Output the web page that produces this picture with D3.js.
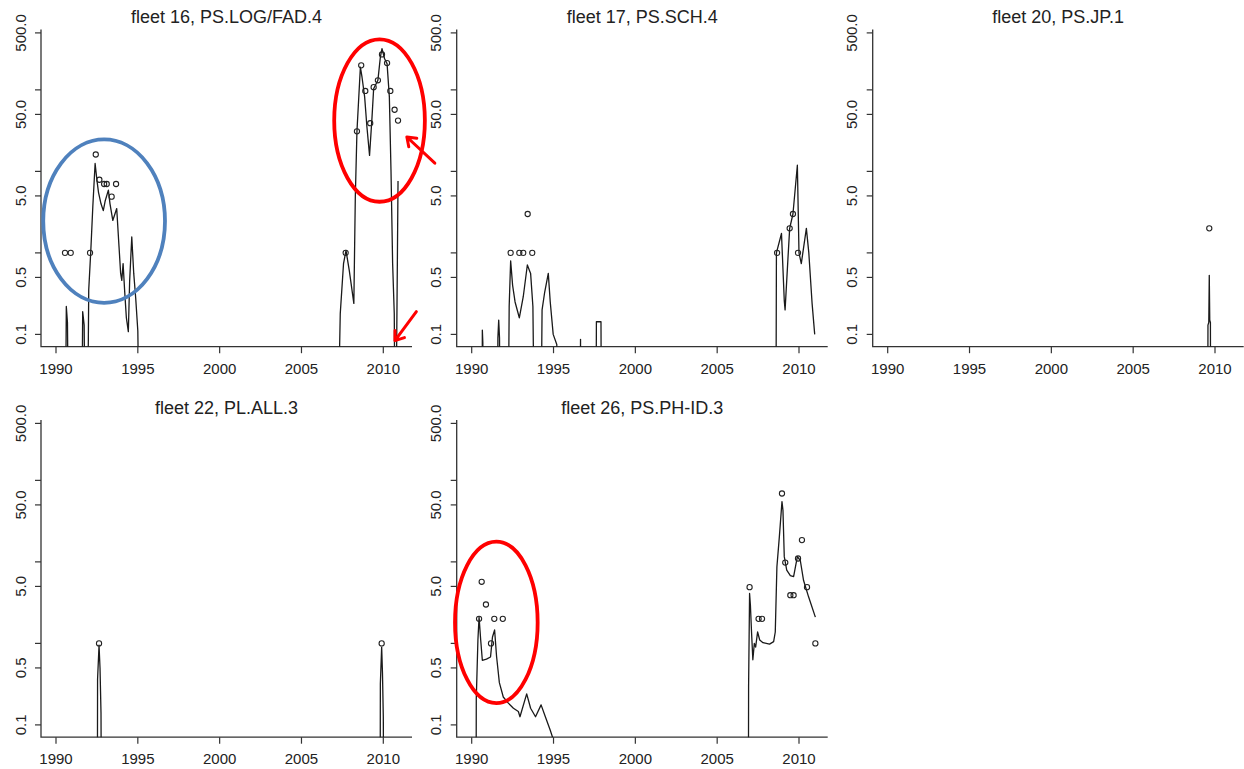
<!DOCTYPE html>
<html>
<head>
<meta charset="utf-8">
<script src="https://cdn.jsdelivr.net/npm/d3@7"></script>
<style>
  html, body { margin: 0; padding: 0; background: #fff; }
  svg { display: block; font-family: "Liberation Sans", Arial, sans-serif; }
</style>
</head>
<body>
<svg id="chart" width="1244" height="769"></svg>
<script>
// ---------------- DATA ----------------
const panelTitles = ["fleet 16, PS.LOG/FAD.4", "fleet 17, PS.SCH.4", "fleet 20, PS.JP.1",
                     "fleet 22, PL.ALL.3", "fleet 26, PS.PH-ID.3"];
const xTicks = [1990, 1995, 2000, 2005, 2010];
const yTicks = [0.1, 0.5, 1, 5, 10, 50, 100, 500];
const yTickLabels = ["0.1", "0.5", "", "5.0", "", "50.0", "", "500.0"];

// fleet 16 observed (points) and expected (line)
const f16ObsT = [1990.55, 1990.9, 1992.08, 1992.43, 1992.65, 1992.94, 1993.1, 1993.4, 1993.67,
                 2007.7, 2008.39, 2008.65, 2008.9, 2009.2, 2009.41, 2009.67, 2009.92, 2010.23, 2010.43, 2010.69, 2010.9];
const f16ObsV = [1.0, 1.0, 1.0, 16.1, 7.9, 7.0, 7.0, 4.9, 7.0,
                 1.0, 31, 200, 97, 39, 108, 131, 272, 213, 97, 57, 42];
const f16ExpT = [1990.55, 1990.63, 1990.7, 1990.8, 1991.55, 1991.63, 1991.72, 1991.82, 1991.9,
                 1992.0, 1992.125, 1992.25, 1992.39, 1992.5, 1992.6, 1992.75, 1992.89, 1993.0, 1993.2, 1993.3,
                 1993.47, 1993.6, 1993.71, 1993.85, 1993.95, 1994.02, 1994.1, 1994.2, 1994.3, 1994.42,
                 1994.5, 1994.63, 1994.75, 1994.87, 1995.0, 1995.14,
                 2007.15, 2007.37, 2007.57, 2007.72, 2007.92, 2008.2, 2008.29, 2008.39, 2008.6, 2008.7,
                 2008.86, 2009.0, 2009.16, 2009.31, 2009.41, 2009.67, 2009.82, 2009.92, 2010.08, 2010.23,
                 2010.37, 2010.47, 2010.57, 2010.67, 2010.74, 2010.9];
const f16ExpV = [0, 0.22, 0.14, 0, 0, 0.19, 0.13, 0, 0,
                 0.35, 1.05, 3.7, 12.5, 7.8, 5.5, 4.0, 3.3, 4.3, 5.9, 4.0,
                 2.5, 3.0, 3.5, 1.2, 0.56, 0.46, 0.74, 0.33, 0.16, 0.108,
                 0.45, 1.57, 0.56, 0.28, 0.11, 0,
                 0, 0.18, 0.74, 1.07, 0.61, 0.24, 4.9, 31, 190, 143,
                 82, 35, 15.7, 46, 103, 131, 252, 320, 241, 210,
                 82, 10.3, 0.74, 0.18, 0, 7.6];

// fleet 17
const f17ObsT = [1992.38, 1992.91, 1993.15, 1993.42, 1993.7, 2008.66, 2009.43, 2009.63, 2009.94];
const f17ObsV = [1.0, 1.0, 1.0, 3.0, 1.0, 1.0, 2.0, 3.0, 1.0];
const f17ExpT = [1990.62, 1990.65, 1990.68, 1990.72, 1991.55, 1991.6, 1991.65, 1991.7, 1991.75,
                 1992.2, 1992.29, 1992.38, 1992.5, 1992.65, 1992.91, 1993.15, 1993.4, 1993.6, 1993.74, 1993.87,
                 1994.2, 1994.3, 1994.45, 1994.68, 1994.8, 1994.98, 1995.2, 1995.25,
                 1996.6, 1996.65, 1996.68, 1997.58, 1997.62, 1997.9, 1997.94,
                 2008.58, 2008.62, 2008.93, 2009.1, 2009.15, 2009.33, 2009.43, 2009.63, 2009.9, 2010.0,
                 2010.14, 2010.45, 2010.6, 2010.8, 2010.96];
const f17ExpV = [0, 0.113, 0.08, 0, 0, 0.09, 0.15, 0.09, 0,
                 0, 0.22, 0.8, 0.4, 0.25, 0.16, 0.29, 0.71, 0.56, 0.22, 0,
                 0, 0.2, 0.32, 0.56, 0.25, 0.1, 0.075, 0,
                 0, 0.087, 0, 0, 0.143, 0.143, 0,
                 0, 1.0, 1.73, 0.26, 0.2, 0.89, 2.0, 3.0, 11.9, 1.0,
                 0.74, 2.0, 1.0, 0.24, 0.1];

// fleet 20
const f20ObsT = [2009.65];
const f20ObsV = [2.0];
const f20ExpT = [2009.55, 2009.57, 2009.62, 2009.65, 2009.68, 2009.72, 2009.74];
const f20ExpV = [0, 0.13, 0.14, 0.53, 0.15, 0.14, 0];

// fleet 22
const f22ObsT = [1992.63, 2009.9];
const f22ObsV = [1.0, 1.0];
const f22ExpT = [1992.52, 1992.54, 1992.63, 1992.69, 1992.75, 1992.79,
                 2009.8, 2009.82, 2009.9, 2009.95, 2010.0, 2010.05];
const f22ExpV = [0, 0.36, 0.95, 0.5, 0.14, 0,
                 0, 0.32, 0.9, 0.43, 0.126, 0];

// fleet 26
const f26ObsT = [1990.45, 1990.61, 1990.87, 1991.18, 1991.38, 1991.9,
                 2006.98, 2007.53, 2007.74, 2008.96, 2009.16, 2009.47, 2009.67, 2009.94, 2010.18, 2010.49, 2011.0];
const f26ObsV = [2.0, 5.7, 3.0, 1.0, 2.0, 2.0,
                 4.9, 2.0, 2.0, 69, 9.8, 3.9, 3.9, 11, 18.5, 4.9, 1.0];
const f26ExpT = [1990.26, 1990.28, 1990.38, 1990.45, 1990.55, 1990.65, 1990.9, 1991.15, 1991.27, 1991.4,
                 1991.52, 1991.69, 1991.93, 1992.24, 1992.55, 1992.85, 1992.95, 1993.36, 1993.6, 1993.9,
                 1994.24, 1994.5, 1994.79, 1995.0,
                 2006.9, 2006.92, 2006.98, 2007.03, 2007.1, 2007.18, 2007.27, 2007.35, 2007.47, 2007.6,
                 2007.8, 2008.2, 2008.45, 2008.55, 2008.65, 2008.8, 2008.96, 2009.02, 2009.1, 2009.25,
                 2009.47, 2009.67, 2009.9, 2010.08, 2010.28, 2010.59, 2011.0];
const f26ExpV = [0, 0.21, 1.1, 2.1, 1.1, 0.62, 0.64, 0.68, 1.2, 1.46,
                 0.69, 0.33, 0.22, 0.185, 0.16, 0.146, 0.126, 0.24, 0.16, 0.126,
                 0.176, 0.126, 0.087, 0.065,
                 0, 0.3, 4.1, 2.96, 1.37, 0.63, 1.0, 0.9, 1.38, 1.1,
                 1.02, 0.98, 1.05, 1.38, 8.7, 20.4, 55, 43, 11.6, 7.9,
                 6.8, 6.6, 11.6, 10.4, 5.9, 3.7, 2.1];

// hand-drawn annotations (data coordinates of each panel)
const annEllipsePanel = [0, 0, 4];
const annEllipseT = [[1989.22, 1996.66], [2007.0, 2012.54], [1988.98, 1994.03]];
const annEllipseV = [[0.244, 24.7], [4.24, 417], [0.185, 17.7]];
const annEllipseColor = ["#4F81BD", "#FF0000", "#FF0000"];
const annArrowPanel = [0, 0];
const annArrowFrom = [[2013.15, 12.6], [2012.02, 0.19]];
const annArrowTo = [[2011.44, 26.4], [2010.71, 0.084]];

// ---------------- LAYOUT ----------------
const obsT = [f16ObsT, f17ObsT, f20ObsT, f22ObsT, f26ObsT];
const obsV = [f16ObsV, f17ObsV, f20ObsV, f22ObsV, f26ObsV];
const expT = [f16ExpT, f17ExpT, f20ExpT, f22ExpT, f26ExpT];
const expV = [f16ExpV, f17ExpV, f20ExpV, f22ExpV, f26ExpV];

const colLeft = [41, 456.7, 872.7];
const rowTop = [29.5, 420];
const plotW = 371, plotH = 317.2;
const svg = d3.select("#chart");
const ink = "#222";

const panels = panelTitles.map((title, i) => {
  const col = i % 3, row = Math.floor(i / 3);
  const left = colLeft[col], top = rowTop[row];
  const x = d3.scaleLinear().domain([1990, 2010]).range([left + 15, left + 342.3]);
  const y = d3.scaleLog().domain([0.1, 500]).range([top + 304.9, top + 3.4]);
  return { i, title, left, top, bottom: top + plotH, right: left + plotW, x, y };
});

panels.forEach(p => {
  const g = svg.append("g");
  const clipId = "clip" + p.i;
  svg.append("clipPath").attr("id", clipId)
    .append("rect").attr("x", p.left).attr("y", p.top).attr("width", plotW).attr("height", plotH);

  // title
  g.append("text").attr("x", p.left + plotW / 2).attr("y", p.top - 6.5)
    .attr("text-anchor", "middle").attr("font-size", 18).attr("fill", ink).text(p.title);

  // axes lines (L-shaped box)
  g.append("path")
    .attr("d", `M${p.left},${p.top}V${p.bottom}H${p.right}`)
    .attr("fill", "none").attr("stroke", "#333").attr("stroke-width", 1.3);

  // x ticks
  xTicks.forEach(t => {
    g.append("line").attr("x1", p.x(t)).attr("x2", p.x(t))
      .attr("y1", p.bottom).attr("y2", p.bottom + 6.5)
      .attr("stroke", "#333").attr("stroke-width", 1.2);
    g.append("text").attr("x", p.x(t)).attr("y", p.bottom + 27)
      .attr("text-anchor", "middle").attr("font-size", 15).attr("fill", ink).text(t);
  });
  // y ticks
  yTicks.forEach((v, k) => {
    g.append("line").attr("x1", p.left - 6).attr("x2", p.left)
      .attr("y1", p.y(v)).attr("y2", p.y(v))
      .attr("stroke", "#333").attr("stroke-width", 1.2);
    if (yTickLabels[k]) {
      g.append("text")
        .attr("transform", `translate(${p.left - 15.5},${p.y(v)}) rotate(-90)`)
        .attr("text-anchor", "middle").attr("font-size", 15).attr("fill", ink)
        .text(yTickLabels[k]);
    }
  });

  // expected line
  const lineData = expT[p.i].map((t, k) => ({ t, v: expV[p.i][k] }));
  const line = d3.line().x(d => p.x(d.t)).y(d => p.y(Math.max(d.v, 1e-3)));
  g.append("path").datum(lineData)
    .attr("clip-path", `url(#${clipId})`)
    .attr("d", line).attr("fill", "none")
    .attr("stroke", "#1a1a1a").attr("stroke-width", 1.3).attr("stroke-linejoin", "round");

  // observed points
  const ptData = obsT[p.i].map((t, k) => ({ t, v: obsV[p.i][k] }));
  g.selectAll("circle.obs").data(ptData).enter().append("circle")
    .attr("class", "obs")
    .attr("cx", d => p.x(d.t)).attr("cy", d => p.y(d.v)).attr("r", 2.6)
    .attr("fill", "none").attr("stroke", "#222").attr("stroke-width", 1.1);
});

// annotations
annEllipsePanel.forEach((pi, k) => {
  const p = panels[pi];
  const x0 = p.x(annEllipseT[k][0]), x1 = p.x(annEllipseT[k][1]);
  const y0 = p.y(annEllipseV[k][0]), y1 = p.y(annEllipseV[k][1]);
  svg.append("ellipse")
    .attr("cx", (x0 + x1) / 2).attr("cy", (y0 + y1) / 2)
    .attr("rx", Math.abs(x1 - x0) / 2).attr("ry", Math.abs(y1 - y0) / 2)
    .attr("fill", "none").attr("stroke", annEllipseColor[k]).attr("stroke-width", 3.8);
});
annArrowPanel.forEach((pi, k) => {
  const p = panels[pi];
  const fx = p.x(annArrowFrom[k][0]), fy = p.y(annArrowFrom[k][1]);
  const tx = p.x(annArrowTo[k][0]), ty = p.y(annArrowTo[k][1]);
  const ang = Math.atan2(fy - ty, fx - tx);
  const L = 10, spread = Math.PI / 5;
  const a1 = [tx + L * Math.cos(ang + spread), ty + L * Math.sin(ang + spread)];
  const a2 = [tx + L * Math.cos(ang - spread), ty + L * Math.sin(ang - spread)];
  svg.append("path")
    .attr("d", `M${fx},${fy}L${tx},${ty}M${a1[0]},${a1[1]}L${tx},${ty}L${a2[0]},${a2[1]}`)
    .attr("fill", "none").attr("stroke", "#FF0000").attr("stroke-width", 3)
    .attr("stroke-linecap", "round").attr("stroke-linejoin", "round");
});
</script>
</body>
</html>
